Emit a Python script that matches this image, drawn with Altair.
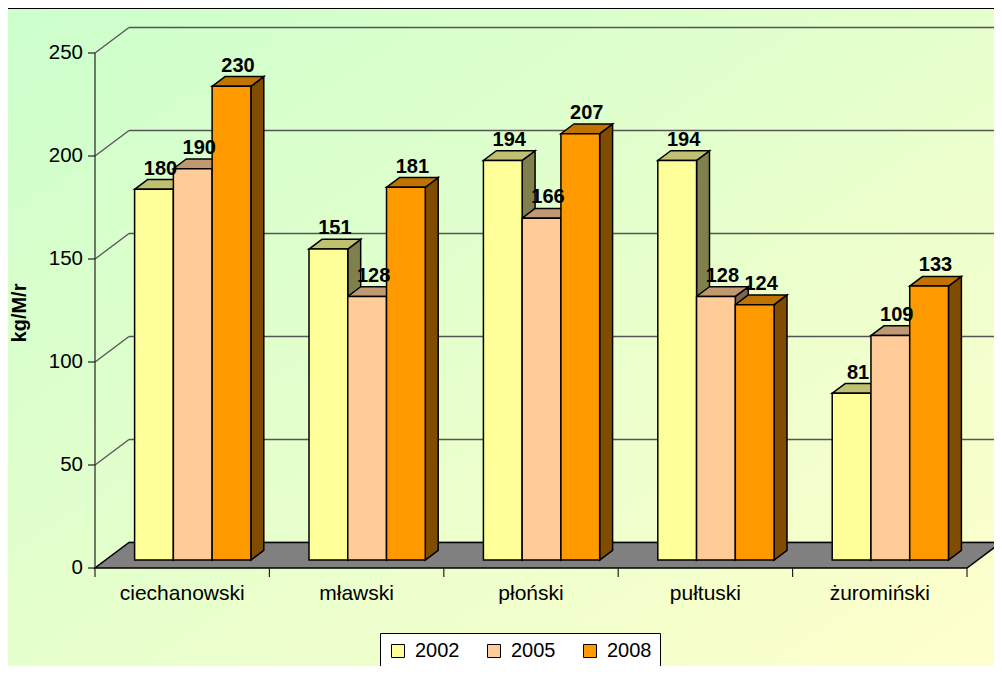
import altair as alt
import pandas as pd

# ---- data ----
categories = ["ciechanowski", "mławski", "płoński", "pułtuski", "żuromiński"]
years = ["2002", "2005", "2008"]
v2002 = [180, 151, 194, 194, 81]
v2005 = [190, 128, 166, 128, 109]
v2008 = [230, 181, 207, 124, 133]
y_ticks = [0, 50, 100, 150, 200, 250]
y_title = "kg/M/r"

# ---- style ----
front_colors = ["#FFFF99", "#FFCC99", "#FF9900"]
top_colors = ["#C0C073", "#C09973", "#C07300"]
side_colors = ["#80804D", "#80664D", "#804D00"]
FONT = "Liberation Sans"

W, H = 986, 658
PX_U, PX_V = 174.4, 2.06          # pixels per category / per value unit
U0_PX, V0_PX = 87, 560            # plot position of u=0 / v=0
umin, umax = -U0_PX / PX_U, (W - U0_PX) / PX_U
vmin, vmax = (V0_PX - H) / PX_V, V0_PX / PX_V
DU, DV = 34 / PX_U, 25.5 / PX_V   # full depth of the 3D box in data units
F0, F1 = 0.31, 0.69               # bar depth (front, back)
BW = 2 / 9                         # bar width in category units
GS = 1 / 6                         # group start

series = [v2002, v2005, v2008]

xs = alt.Scale(domain=[umin, umax], nice=False, zero=False)
ys = alt.Scale(domain=[vmin, vmax], nice=False, zero=False)


def X(f="u", **kw):
    return alt.X(f + ":Q", scale=xs, axis=None, **kw)


def Y(f="v", **kw):
    return alt.Y(f + ":Q", scale=ys, axis=None, **kw)


# ---- build geometry tables from the data ----
fronts, tops, sides, labels = [], [], [], []
for c, cat in enumerate(categories):
    for s, yr in enumerate(years):
        val = series[s][c]
        bid = f"{c}-{s}"
        xl = c + GS + s * BW + F0 * DU
        xr = xl + BW
        yb = F0 * DV
        yt = val + F0 * DV
        ddu = (F1 - F0) * DU
        fronts.append(dict(u=xl, u2=xr, v=yb, v2=yt, year=yr))
        tops.append(dict(id=bid, v=yt, u=xl, u2=xr, col=top_colors[s]))
        tops.append(dict(id=bid, v=val + F1 * DV, u=xl + ddu, u2=xr + ddu, col=top_colors[s]))
        sides.append(dict(id=bid, u=xr, v=yb, v2=yt, col=side_colors[s]))
        sides.append(dict(id=bid, u=xr + ddu, v=F1 * DV, v2=val + F1 * DV, col=side_colors[s]))
        labels.append(dict(u=c + GS + s * BW + BW / 2 + 0.5 * DU, v=val + F1 * DV, t=str(val)))

walls = []
for t in y_ticks:
    walls.append(dict(u=0, v=t, u2=DU, v2=t + DV))
    walls.append(dict(u=DU, v=t + DV, u2=umax, v2=t + DV))

floor = pd.DataFrame([dict(v=0, u=0, u2=len(categories)),
                      dict(v=DV, u=DU, u2=len(categories) + DU)])
xticks = pd.DataFrame([dict(u=i, v=0, v2=-9 / PX_V) for i in range(len(categories) + 1)])
yticks = pd.DataFrame([dict(u=0, u2=-7 / PX_U, v=t, t=str(t)) for t in y_ticks])
yline = pd.DataFrame([dict(u=0, v=y_ticks[0], v2=y_ticks[-1])])
catlab = pd.DataFrame([dict(u=i + 0.5, v=0, t=c) for i, c in enumerate(categories)])
ytitle = pd.DataFrame([dict(u=(20 - 8 - U0_PX) / PX_U, v=(V0_PX - 305) / PX_V, t=y_title)])
one = pd.DataFrame({"a": [0]})

# ---- layers ----
bg = alt.Chart(one).mark_rect(
    fill=alt.Gradient(gradient="linear",
                      stops=[alt.GradientStop(color="#CCFFCC", offset=0),
                             alt.GradientStop(color="#FFFFCC", offset=1)],
                      x1=0, y1=0, x2=1, y2=1)
).encode(x=alt.value(0), x2=alt.value(W), y=alt.value(0), y2=alt.value(H))

grid = alt.Chart(pd.DataFrame(walls)).mark_rule(color="#555555", strokeWidth=1.3).encode(
    x=X(), x2="u2:Q", y=Y(), y2="v2:Q")

floor_l = alt.Chart(floor).mark_area(orient="horizontal", fill="#808080", stroke="black",
                                     strokeWidth=1.5).encode(
    y=Y(), x=X(stack=None), x2="u2:Q")

yline_l = alt.Chart(yline).mark_rule(color="#222222", strokeWidth=1.2).encode(
    x=X(), y=Y(), y2="v2:Q")

xticks_l = alt.Chart(xticks).mark_rule(color="#222222", strokeWidth=1.2).encode(
    x=X(), y=Y(), y2="v2:Q")

yticks_l = alt.Chart(yticks).mark_rule(color="#222222", strokeWidth=1.2).encode(
    x=X(), x2="u2:Q", y=Y())

ylab_l = alt.Chart(yticks).mark_text(font=FONT, fontSize=20.5, color="black", align="right",
                                     baseline="middle", dx=-12).encode(
    x=X(), y=Y(), text="t:N")

catlab_l = alt.Chart(catlab).mark_text(font=FONT, fontSize=21, color="black", align="center",
                                       baseline="alphabetic", dy=32).encode(
    x=X(), y=Y(), text="t:N")

ytitle_l = alt.Chart(ytitle).mark_text(font=FONT, fontSize=20, fontWeight="bold", color="black",
                                       align="center", baseline="middle", angle=270).encode(
    x=X(), y=Y(), text="t:N")

sides_l = alt.Chart(pd.DataFrame(sides)).mark_area(orient="vertical", stroke="black",
                                                   strokeWidth=1.5).encode(
    x=X(), y=Y(stack=None), y2="v2:Q",
    detail="id:N", fill=alt.Fill("col:N", scale=None))

tops_l = alt.Chart(pd.DataFrame(tops)).mark_area(orient="horizontal", stroke="black",
                                                 strokeWidth=1.5).encode(
    y=Y(), x=X(stack=None), x2="u2:Q",
    detail="id:N", fill=alt.Fill("col:N", scale=None))

fronts_l = alt.Chart(pd.DataFrame(fronts)).mark_rect(stroke="black", strokeWidth=1.5).encode(
    x=X(), x2="u2:Q", y=Y(), y2="v2:Q",
    fill=alt.Fill("year:N", scale=alt.Scale(domain=years, range=front_colors),
                  legend=alt.Legend(orient="none", legendX=372, legendY=625,
                                    direction="horizontal", title=None,
                                    fillColor="white", strokeColor="black", padding=8,
                                    symbolType="square", symbolSize=169,
                                    symbolStrokeColor="black", symbolStrokeWidth=1,
                                    labelFont=FONT, labelFontSize=20, labelColor="black",
                                    labelOffset=7, columnPadding=24)))

labels_l = alt.Chart(pd.DataFrame(labels)).mark_text(
    font=FONT, fontSize=20, fontWeight="bold", color="black", baseline="alphabetic",
    align="center", dy=-5).encode(
    x=X(), y=Y(), text="t:N")

border = alt.Chart(one).mark_rule(color="black", strokeWidth=2).encode(
    x=alt.value(0), x2=alt.value(W), y=alt.value(0))

chart = alt.layer(bg, grid, floor_l, yline_l, xticks_l, yticks_l, ylab_l, catlab_l, ytitle_l,
                  sides_l, tops_l, fronts_l, labels_l, border).properties(
    width=W, height=H, autosize=alt.AutoSizeParams(type="none"), padding=0
).configure_view(stroke=None)

chart.save("out.html", embed_options={"renderer": "svg", "actions": False})
